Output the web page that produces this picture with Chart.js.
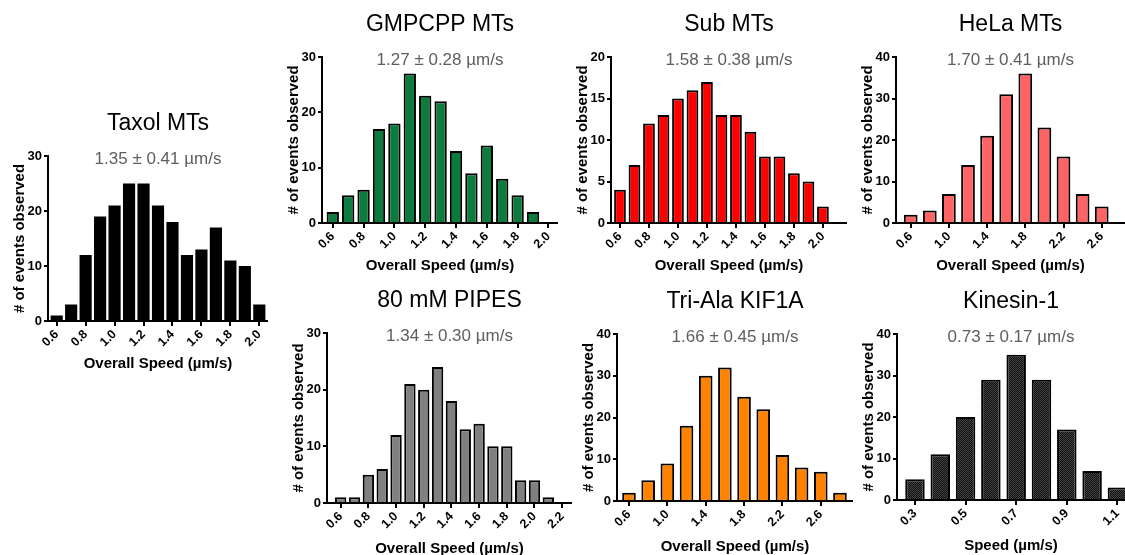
<!DOCTYPE html>
<html>
<head>
<meta charset="utf-8">
<title>Motor speed histograms</title>
<script src="https://cdn.jsdelivr.net/npm/chart.js@4.4.1/dist/chart.umd.min.js"></script>
<style>
    html, body { margin: 0; padding: 0; background: #fff; overflow: hidden; }
    body { width: 1125px; height: 555px; position: relative; }
    canvas { position: absolute; }
</style>
</head>
<body>
<script>
// --- speed bins (um/s) and event counts per condition ---
const taxolBins = [0.6, 0.7, 0.8, 0.9, 1.0, 1.1, 1.2, 1.3, 1.4, 1.5, 1.6, 1.7, 1.8, 1.9, 2.0];
const taxolCounts = [1, 3, 12, 19, 21, 25, 25, 21, 18, 12, 13, 17, 11, 10, 3];

const gmpcppBins = [0.6, 0.7, 0.8, 0.9, 1.0, 1.1, 1.2, 1.3, 1.4, 1.5, 1.6, 1.7, 1.8, 1.9];
const gmpcppCounts = [2, 5, 6, 17, 18, 27, 23, 22, 13, 9, 14, 8, 5, 2];

const subBins = [0.6, 0.7, 0.8, 0.9, 1.0, 1.1, 1.2, 1.3, 1.4, 1.5, 1.6, 1.7, 1.8, 1.9, 2.0];
const subCounts = [4, 7, 12, 13, 15, 16, 17, 13, 13, 11, 8, 8, 6, 5, 2];

const helaBins = [0.6, 0.8, 1.0, 1.2, 1.4, 1.6, 1.8, 2.0, 2.2, 2.4, 2.6];
const helaCounts = [2, 3, 7, 14, 21, 31, 36, 23, 16, 7, 4];

const pipesBins = [0.6, 0.7, 0.8, 0.9, 1.0, 1.1, 1.2, 1.3, 1.4, 1.5, 1.6, 1.7, 1.8, 1.9, 2.0, 2.1];
const pipesCounts = [1, 1, 5, 6, 12, 21, 20, 24, 18, 13, 14, 10, 10, 4, 4, 1];

const triAlaBins = [0.6, 0.8, 1.0, 1.2, 1.4, 1.6, 1.8, 2.0, 2.2, 2.4, 2.6, 2.8];
const triAlaCounts = [2, 5, 9, 18, 30, 32, 25, 22, 11, 8, 7, 2];

const kinesinBins = [0.3, 0.4, 0.5, 0.6, 0.7, 0.8, 0.9, 1.0, 1.1];
const kinesinCounts = [5, 11, 20, 29, 35, 29, 17, 7, 3];

// --- tick labels ---
const xTicksTenths = [0.6, 0.8, 1.0, 1.2, 1.4, 1.6, 1.8, 2.0];
const xTicksPipes = [0.6, 0.8, 1.0, 1.2, 1.4, 1.6, 1.8, 2.0, 2.2];
const xTicksWide = [0.6, 1.0, 1.4, 1.8, 2.2, 2.6];
const xTicksKinesin = [0.3, 0.5, 0.7, 0.9, 1.1];
const yTicks30 = [0, 10, 20, 30];
const yTicks20 = [0, 5, 10, 15, 20];
const yTicks40 = [0, 10, 20, 30, 40];

// --- titles ---
const titles = ["Taxol MTs", "GMPCPP MTs", "Sub MTs", "HeLa MTs", "80 mM PIPES", "Tri-Ala KIF1A", "Kinesin-1"];
const meanSpeeds = [
    "1.35 \u00b1 0.41 \u00b5m/s",
    "1.27 \u00b1 0.28 \u00b5m/s",
    "1.58 \u00b1 0.38 \u00b5m/s",
    "1.70 \u00b1 0.41 \u00b5m/s",
    "1.34 \u00b1 0.30 \u00b5m/s",
    "1.66 \u00b1 0.45 \u00b5m/s",
    "0.73 \u00b1 0.17 \u00b5m/s",
];
const speedTitle = "Overall Speed (\u00b5m/s)";
const kinesinSpeedTitle = "Speed (\u00b5m/s)";
const countTitle = "# of events observed";

Chart.defaults.font.family = "'Liberation Sans', Arial, Helvetica, sans-serif";

// small dark checker used as the fill for the kinesin bars
const makeCheckerPattern = () => {
    const tile = document.createElement("canvas");
    tile.width = 2;
    tile.height = 2;
    const tctx = tile.getContext("2d");
    tctx.fillStyle = "#454545";
    tctx.fillRect(0, 0, 2, 2);
    tctx.fillStyle = "#0e0e0e";
    tctx.fillRect(0, 0, 1, 1);
    tctx.fillRect(1, 1, 1, 1);
    return tctx.createPattern(tile, "repeat");
};

const Y_AXIS_W = 44;   // room for y tick labels + rotated title
const TOP_H = 46;      // title + subtitle block above the plot

// plot area in page pixels: left/top/right/bottom, plus x range
const panels = [
    { bins: taxolBins, counts: taxolCounts, fill: "#000000", edge: 0, xTicks: xTicksTenths, yTicks: yTicks30, xMin: 0.54, xMax: 2.06, bar: 0.84,
      left: 48, top: 156, right: 268, bottom: 321, xh: 52, title: titles[0], mean: meanSpeeds[0], xTitle: speedTitle },
    { bins: gmpcppBins, counts: gmpcppCounts, fill: "#0b7b3e", edge: 2, xTicks: xTicksTenths, yTicks: yTicks30, xMin: 0.53, xMax: 2.062, bar: 0.8,
      left: 322, top: 57, right: 558, bottom: 223, xh: 52, title: titles[1], mean: meanSpeeds[1], xTitle: speedTitle },
    { bins: subBins, counts: subCounts, fill: "#ff0000", edge: 2, xTicks: xTicksTenths, yTicks: yTicks20, xMin: 0.538, xMax: 2.166, bar: 0.81,
      left: 611, top: 57, right: 847, bottom: 223, xh: 52, title: titles[2], mean: meanSpeeds[2], xTitle: speedTitle },
    { bins: helaBins, counts: helaCounts, fill: "#ff6464", edge: 2, xTicks: xTicksWide, yTicks: yTicks40, xMin: 0.446, xMax: 2.844, bar: 0.72,
      left: 896, top: 57, right: 1125, bottom: 223, xh: 52, title: titles[3], mean: meanSpeeds[3], xTitle: speedTitle },
    { bins: pipesBins, counts: pipesCounts, fill: "#808080", edge: 2, xTicks: xTicksPipes, yTicks: yTicks30, xMin: 0.501, xMax: 2.271, bar: 0.82,
      left: 327, top: 333, right: 572, bottom: 503, xh: 55, title: titles[4], mean: meanSpeeds[4], xTitle: speedTitle },
    { bins: triAlaBins, counts: triAlaCounts, fill: "#ff8200", edge: 2, xTicks: xTicksWide, yTicks: yTicks40, xMin: 0.475, xMax: 2.936, bar: 0.71,
      left: 617, top: 334, right: 853, bottom: 501, xh: 55, title: titles[5], mean: meanSpeeds[5], xTitle: speedTitle },
    { bins: kinesinBins, counts: kinesinCounts, fill: makeCheckerPattern(), edge: 2, xTicks: xTicksKinesin, yTicks: yTicks40, xMin: 0.229, xMax: 1.13, bar: 0.77,
      left: 897, top: 334, right: 1125, bottom: 500, xh: 55, title: titles[6], mean: meanSpeeds[6], xTitle: kinesinSpeedTitle },
];

const makeHistogram = (panel) => {
    const canvas = document.createElement("canvas");
    const canvasLeft = panel.left - Y_AXIS_W;
    const canvasTop = panel.top - TOP_H;
    canvas.width = panel.right - canvasLeft;
    canvas.height = panel.bottom + panel.xh - canvasTop;
    canvas.style.left = canvasLeft + "px";
    canvas.style.top = canvasTop + "px";
    document.body.appendChild(canvas);

    const yMax = panel.yTicks[panel.yTicks.length - 1];

    new Chart(canvas.getContext("2d"), {
        type: "bar",
        data: {
            datasets: [{
                data: panel.bins.map((b, i) => ({ x: b, y: panel.counts[i] })),
                backgroundColor: panel.fill,
                borderColor: "#000",
                borderWidth: panel.edge,
                categoryPercentage: 1,
                barPercentage: panel.bar,
            }],
        },
        options: {
            responsive: false,
            animation: false,
            events: [],
            layout: { padding: 0 },
            plugins: {
                legend: { display: false },
                tooltip: { enabled: false },
                title: {
                    display: true,
                    text: panel.title,
                    fullSize: false,
                    color: "#000",
                    font: { size: 23, weight: "normal", lineHeight: 1.2 },
                    padding: { top: 0, bottom: 11.2 },
                },
                subtitle: {
                    display: true,
                    text: panel.mean,
                    fullSize: false,
                    color: "#5e5e5e",
                    font: { size: 17, weight: "normal", lineHeight: 1.2 },
                    padding: { top: 0, bottom: -13.2 },
                },
            },
            scales: {
                x: {
                    type: "linear",
                    min: panel.xMin,
                    max: panel.xMax,
                    offset: false,
                    afterBuildTicks: (axis) => {
                        axis.ticks = panel.xTicks.map((v) => ({ value: v }));
                    },
                    afterFit: (axis) => {
                        axis.height = panel.xh;
                        axis.paddingLeft = 0;
                        axis.paddingRight = 0;
                    },
                    grid: { offset: false, drawOnChartArea: false, tickLength: 5, color: "#000", lineWidth: 2 },
                    border: { color: "#000", width: 2 },
                    ticks: {
                        autoSkip: false,
                        minRotation: 45,
                        maxRotation: 45,
                        padding: 1,
                        color: "#000",
                        font: { size: 12.5, weight: "bold" },
                        callback: (v) => Number(v).toFixed(1),
                    },
                    title: {
                        display: true,
                        text: panel.xTitle,
                        color: "#000",
                        font: { size: 15, weight: "bold", lineHeight: 1.2 },
                        padding: 0,
                    },
                },
                y: {
                    min: 0,
                    max: yMax,
                    afterBuildTicks: (axis) => {
                        axis.ticks = panel.yTicks.map((v) => ({ value: v }));
                    },
                    afterFit: (axis) => {
                        axis.width = Y_AXIS_W;
                        axis.paddingTop = 0;
                        axis.paddingBottom = 0;
                    },
                    grid: { drawOnChartArea: false, tickLength: 4, color: "#000", lineWidth: 2 },
                    border: { color: "#000", width: 2 },
                    ticks: {
                        padding: 2,
                        color: "#000",
                        font: { size: 13, weight: "bold" },
                    },
                    title: {
                        display: true,
                        text: countTitle,
                        color: "#000",
                        font: { size: 15, weight: "bold", lineHeight: 1.2 },
                        padding: { top: 7, bottom: 0 },
                    },
                },
            },
        },
    });
};

panels.forEach(makeHistogram);
</script>
</body>
</html>
